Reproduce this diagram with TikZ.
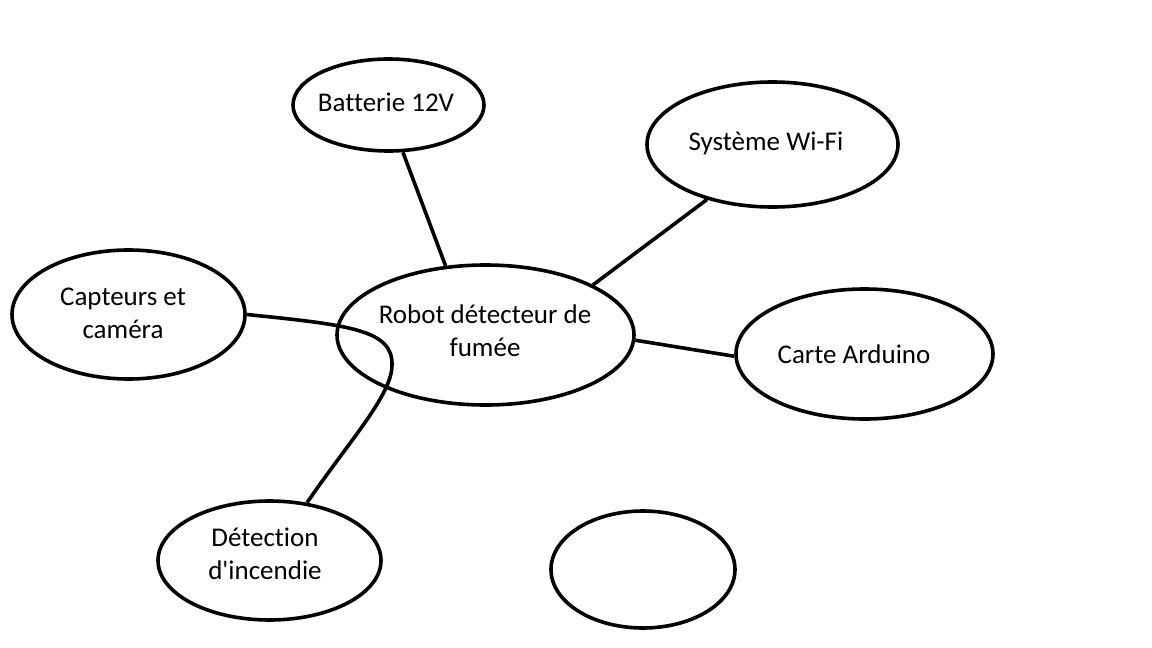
\documentclass[tikz,border=0pt]{standalone}
\usepackage{fontspec}
\newfontfamily\carl{Carlito}[Ligatures=NoCommon]
\usetikzlibrary{shapes.geometric}
\begin{document}
\begin{tikzpicture}[x=1pt,y=-1pt,
  bubble/.style={ellipse,draw=black,line width=3.6pt,inner sep=0pt,fill=none},
  txt/.style={inner sep=0pt,align=center,font=\carl\fontsize{27}{33}\selectfont,text=black},
  link/.style={draw=black,line width=3.6pt}]
\useasboundingbox[fill=white] (0,0) rectangle (1152,648);
% ellipses
\node[bubble,minimum width=191pt,minimum height=92pt] (bat) at (388.5,105) {};
\node[bubble,minimum width=251pt,minimum height=125pt] (wifi) at (772.5,144.5) {};
\node[bubble,minimum width=233pt,minimum height=129pt] (cap) at (128.5,314.5) {};
\node[bubble,minimum width=297pt,minimum height=140pt] (rob) at (485.5,335) {};
\node[bubble,minimum width=257pt,minimum height=130pt] (ard) at (864.5,354) {};
\node[bubble,minimum width=223pt,minimum height=119pt] (det) at (269.5,560.5) {};
\node[bubble,minimum width=184pt,minimum height=117pt] (emp) at (643,569.5) {};
% texts
\node[txt] (tbat) at (386,102) {Batterie 12V};
\node[txt] (twifi) at (766,143) {Système Wi-Fi};
\node[txt] (tcap) at (123,313) {Capteurs et\\caméra};
\node[txt] (trob) at (485,331) {Robot détecteur de\\fumée};
\node[txt] (tard) at (854,354) {Carte Arduino};
\node[txt] (tdet) at (265,554) {Détection\\d'incendie};
% connectors
\draw[link] (bat.-73) -- (rob.120);
\draw[link] (wifi.220) -- (rob.25.5);
\draw[link] (rob.-2) -- (ard.181);
\draw[link] (cap.0) .. controls (350,325) and (393,330) .. (392,365)
  .. controls (392,395) and (350,440) .. (det.57);
\end{tikzpicture}
\end{document}
